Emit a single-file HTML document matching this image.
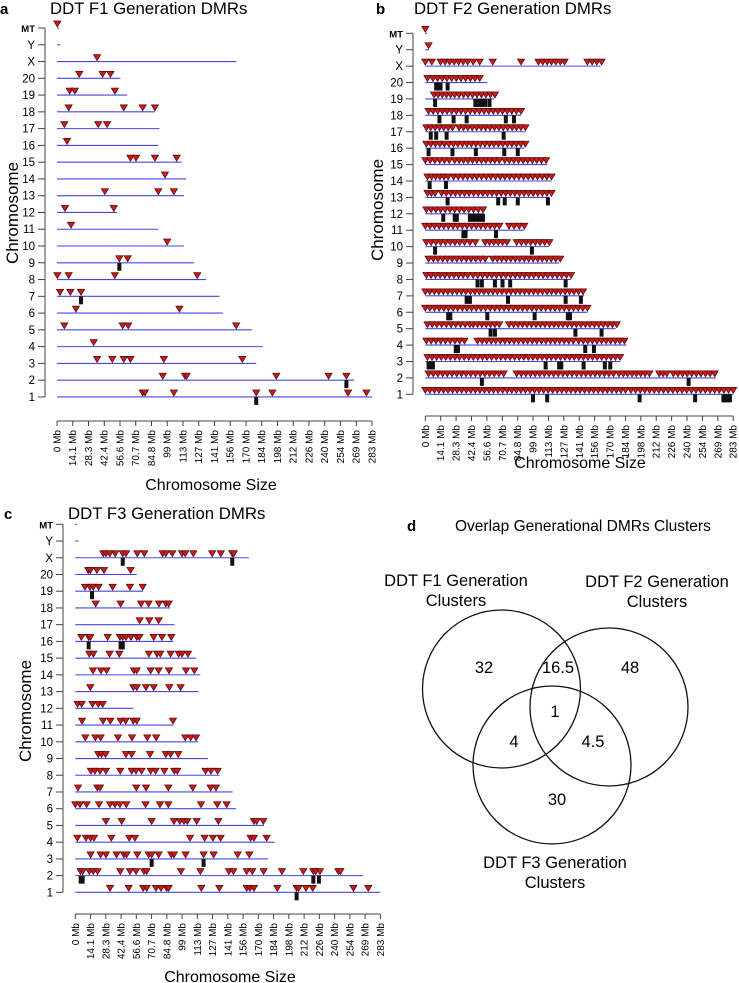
<!DOCTYPE html>
<html><head><meta charset="utf-8"><style>
html,body{margin:0;padding:0;background:#fff;}
svg{display:block;font-family:"Liberation Sans",Arial,sans-serif;}
</style></head><body>
<svg id="fig" width="739" height="983" viewBox="0 0 739 983"></svg>
<script>
const chromLabels = ["MT","Y","X","20","19","18","17","16","15","14","13","12","11","10","9","8","7","6","5","4","3","2","1"];
const chromLengths = [0.4,3,161,57,63,88,92,91,112,116,114,54,91,114,123,134,146,149,175,185,179,267,283];
const tickLabels = ["0 Mb","14.1 Mb","28.3 Mb","42.4 Mb","56.6 Mb","70.7 Mb","84.8 Mb","99 Mb","113 Mb","127 Mb","141 Mb","156 Mb","170 Mb","184 Mb","198 Mb","212 Mb","226 Mb","240 Mb","254 Mb","269 Mb","283 Mb"];
const tickValues = [0,14.15,28.3,42.45,56.6,70.75,84.9,99.05,113.2,127.35,141.5,155.65,169.8,183.95,198.1,212.25,226.4,240.55,254.7,268.85,283];

// F1 DMR positions (Mb) per chromosome
const f1DMRs = {MT:[0.3],Y:[],X:[36],"20":[20,41,48],"19":[11.4,16,52],"18":[10.5,60,77,88],"17":[6.6,37,45],"16":[9],"15":[66,71,88,107.5],"14":[97],"13":[43,91,105],"12":[7.2,51],"11":[12.6],"10":[99],"9":[56,63.5],"8":[0.3,10.5,52,126],"7":[2.7,12,21.6],"6":[17,110],"5":[6.6,59,64,161],"4":[33],"3":[36,49.7,60,66,96,166.5],"2":[95,115,116.5,197,244,260],"1":[77,79,105,179,193.5,261.5,278]};
const f1Clusters = {"9":[56],"7":[21.6],"2":[260],"1":[179]};

// F2 DMR-dense stretches (start Mb, end Mb)
const f2Stretches = {MT:[[0,0]],Y:[[3,3]],X:[[0,6],[14,39],[44,50],[62,62],[88,88],[104,128],[149,162]],"20":[[2,2],[7,50]],"19":[[8,27],[31,64]],"18":[[3,88]],"17":[[1,25],[31,92]],"16":[[1,92]],"15":[[0,22],[27,68],[73,111]],"14":[[2,21],[26,116]],"13":[[2,9],[15,116]],"12":[[1,53]],"11":[[0,68],[77,91]],"10":[[1,36],[41,46],[55,75],[84,114]],"9":[[3,55],[62,124]],"8":[[1,39],[44,134]],"7":[[0,145]],"6":[[0,149]],"5":[[2,41],[44,68],[77,176]],"4":[[1,36],[48,136],[141,183]],"3":[[2,179]],"2":[[3,72],[84,173],[178,206],[215,222],[228,266]],"1":[[0,184],[189,283]]};
const f2Clusters = {"20":[10,12,14,20.5],"19":[9,46,49,52,55,59],"18":[13,26,38,74,81.5],"17":[5,10,19.6,72],"16":[3,25,46.5,72.6,85],"14":[4,19],"13":[20.5,67,73,85,112.7],"12":[16.5,27,29,41,44,47,50,53],"11":[35,37,65],"10":[9,98],"8":[48,52,64,71,78,129],"7":[38,41,76,129,143],"6":[21,23,57,100.5,131,133],"5":[60,64,138,162],"4":[28,30,147,155],"3":[3,5,7,110.6,123,125,145.5,165,170],"2":[52,242],"1":[99,112,197,248,274,276,278,280]};

// F3 DMR positions (Mb)
const f3DMRs = {MT:[],Y:[],X:[26,28.5,32,37,44,47,57.5,64,81,84,90,99,102,109.5,127,135,145.6,147],"20":[12,14,20,26.6,51.3],"19":[9,13.6,16.7,21.6,34.6,50.7,62.5],"18":[18.9,42,61,68,77.6,84,86.6],"17":[59.7,68.6,77.3],"16":[5.6,12.4,14,30,41.4,44,47,51.6,57,59.4,72.7,80.4,89],"15":[13,16.7,31.8,40.8,68.3,75.8,78.8,88.4,95.9,99,104.5],"14":[16.4,23.8,29,54.4,57,69.9,77.3,86.9,102.7,110.4],"13":[13.9,53.8,57,65.6,72.7,87.2,97.7],"12":[2.2,5.9,16,21.3,25.4],"11":[6.2,25.7,32.5,42,46.7,53.8,57,90.6],"10":[9.3,18.6,23.5,39.6,52.6,66.8,75,102,107,112],"9":[21.3,24.4,28.1,47,52.3,69.3,84,88.4,95.5],"8":[14.5,18.2,22.9,28.4,41.7,52.3,56.3,61.5,69.9,74.5,82.6,91.8,94.6,120.9,125.8,132],"7":[2.5,20.4,22.9,56.6,65.6,86.3,109,125.5,130.5],"6":[0,4.3,10.5,22,32.2,36.8,41.4,47.3,65.2,78.5,86.3,116.6,131.7,140.4],"5":[28.4,43,70.8,91.5,97,100.8,103.9,112.6,132.7,165.7,168.2,174.4],"4":[1.9,9.9,14.2,17.3,33.4,50,55.3,106.4,120,127.7,134.8,162.6,165.7,177.5],"3":[14.2,23.5,28.4,38.3,45.1,47.6,57.5,68,70.8,77.3,89,91.5,102.3,119,128.3,150.6,161.4],"2":[4.9,6.8,13,16.7,20.7,41.7,50.7,56.3,63.7,66.2,98,116,142.5,146.6,159,164.2,174.7,191.7,211.5,220.8,223,227,244,246],"1":[32.2,49.5,63,66.2,74.8,79.5,84.7,86.6,116.9,133.6,159,162,165.7,187.4,205.3,207.2,214,220.2,258,271.8]};
const f3Clusters = {X:[44,145.6],"19":[15.5],"16":[12.4,42,44],"3":[70.8,119],"2":[5,6.8,220.8,226],"1":[205.3]};

// Venn counts
const vennLabels = ["F1 only","F1∩F2","F2 only","all","F1∩F3","F2∩F3","F3 only"];
const vennValues = ["32","16.5","48","1","4","4.5","30"];

const NS="http://www.w3.org/2000/svg";
const svg=document.getElementById('fig');
function mk(tag,attrs,parent){const e=document.createElementNS(NS,tag);for(const k in attrs)e.setAttribute(k,attrs[k]);(parent||svg).appendChild(e);return e;}
function txt(s,attrs,parent){const e=mk('text',attrs,parent);e.textContent=s;return e;}

function panel(cfg){
  const g=mk('g',{});
  
  
  const xs=v=>cfg.x0+v*cfg.k;
  const ys=i=>cfg.yTop+i*cfg.dy;
  const letter=txt(cfg.letter,{x:cfg.letterX,y:cfg.titleY,'font-size':15,'font-weight':'bold'},g);
  
  
  const title=txt(cfg.title,{x:cfg.titleX,y:cfg.titleY,'font-size':16.8},g);
  
  
  const yax=mk('line',{x1:cfg.axX,x2:cfg.axX,y1:ys(0),y2:ys(22),stroke:'#444','stroke-width':1},g);
  
  
  chromLabels.forEach((c,i)=>{
    mk('line',{x1:cfg.axX-7,x2:cfg.axX,y1:ys(i),y2:ys(i),stroke:'#444'},g);
    const t=txt(c,{x:cfg.axX-10,y:ys(i)+4,'font-size':c==="MT"?9.5:11.5,'text-anchor':'end','font-weight':c==="MT"?'bold':'normal'},g);
    
    
    const len=chromLengths[i];
    const ln=mk('line',{x1:xs(0),x2:xs(len)+(len<1?1.5:0),y1:ys(i),y2:ys(i),stroke:'#4646e6','stroke-width':1.1},g);
    
    
  });
  const yt=txt('Chromosome',{x:0,y:0,'font-size':17,'text-anchor':'middle',transform:`translate(${cfg.yTitleX},${cfg.yTitleY}) rotate(-90)`},g);
  
  
  const xax=mk('line',{x1:xs(0),x2:xs(283),y1:cfg.xAxY,y2:cfg.xAxY,stroke:'#444'},g);
  
  
  tickValues.forEach((v,i)=>{
    mk('line',{x1:xs(v),x2:xs(v),y1:cfg.xAxY,y2:cfg.xAxY+5,stroke:'#444'},g);
    const t=txt(tickLabels[i],{x:0,y:0,'font-size':10,'text-anchor':'end',transform:`translate(${xs(v)+3.5},${cfg.xAxY+9}) rotate(-90)`},g);
    
    
  });
  const xt=txt('Chromosome Size',{x:cfg.xTitleX,y:cfg.xTitleY,'font-size':16,'text-anchor':'middle'},g);
  
  
  chromLabels.forEach((c,i)=>{
    (cfg.clusters[c]||[]).forEach(v=>{
      const r=mk('rect',{x:xs(v)-2,y:ys(i),width:4,height:8,fill:'#111'},g);
      
      
    });
  });
  const tri=(v,i)=>{
    const x=xs(v),y=ys(i)-1;
    const p=mk('polygon',{points:`${x-3.6},${y-6} ${x+3.6},${y-6} ${x},${y}`,fill:'#cc1a1a',stroke:'#4a0a0a','stroke-width':0.7},g);
    
    
  };
  chromLabels.forEach((c,i)=>{
    if(cfg.dmrs)(cfg.dmrs[c]||[]).forEach(v=>tri(v,i));
    if(cfg.stretches)(cfg.stretches[c]||[]).forEach(([a,b])=>{
      if(b-a<1){tri(a,i);return;}
      const n=Math.max(1,Math.round((b-a)/4.2));
      for(let j=0;j<=n;j++)tri(a+(b-a)*j/n,i);
    });
  });
}

panel({name:'panel-a-f1',letter:'a',letterX:0,title:'DDT F1 Generation DMRs',titleX:50,titleY:14,
  x0:57,k:1.113,yTop:28,dy:16.77,axX:45,xAxY:421,yTitleX:18,yTitleY:213,xTitleX:211,xTitleY:490,
  dmrs:f1DMRs,clusters:f1Clusters});
panel({name:'panel-b-f2',letter:'b',letterX:376,title:'DDT F2 Generation DMRs',titleX:414,titleY:14,
  x0:425.3,k:1.088,yTop:33.3,dy:16.41,axX:413,xAxY:416,yTitleX:383,yTitleY:210,xTitleX:580,xTitleY:468,
  stretches:f2Stretches,clusters:f2Clusters});
panel({name:'panel-c-f3',letter:'c',letterX:4,title:'DDT F3 Generation DMRs',titleX:68,titleY:519,
  x0:75.3,k:1.078,yTop:524.3,dy:16.73,axX:63,xAxY:914,yTitleX:31,yTitleY:711,xTitleX:230,xTitleY:982,
  dmrs:f3DMRs,clusters:f3Clusters});

const vg=mk('g',{});


const dl=txt('d',{x:407,y:531,'font-size':15,'font-weight':'bold'},vg);


const dt=txt('Overlap Generational DMRs Clusters',{x:455,y:531,'font-size':15.5},vg);


const circles=[[501.5,689,79],[609,707,79],[552,765,79]];
circles.forEach((c,i)=>{
  const e=mk('circle',{cx:c[0],cy:c[1],r:c[2],fill:'none',stroke:'#111','stroke-width':1.3},vg);
  
  
});
[["DDT F1 Generation",456,586],["Clusters",456,606],["DDT F2 Generation",657,587],["Clusters",657,607],["DDT F3 Generation",555,868],["Clusters",555,888]].forEach(s=>{
  const t=txt(s[0],{x:s[1],y:s[2],'font-size':16.5,'text-anchor':'middle'},vg);
  
  
});
const vpos=[[484,673],[558,673],[630,673],[555,717],[514,747],[593,747],[557,805]];
vennValues.forEach((v,i)=>{
  const t=txt(v,{x:vpos[i][0],y:vpos[i][1],'font-size':16.5,'text-anchor':'middle'},vg);
  
  
});
</script>
</body></html>
